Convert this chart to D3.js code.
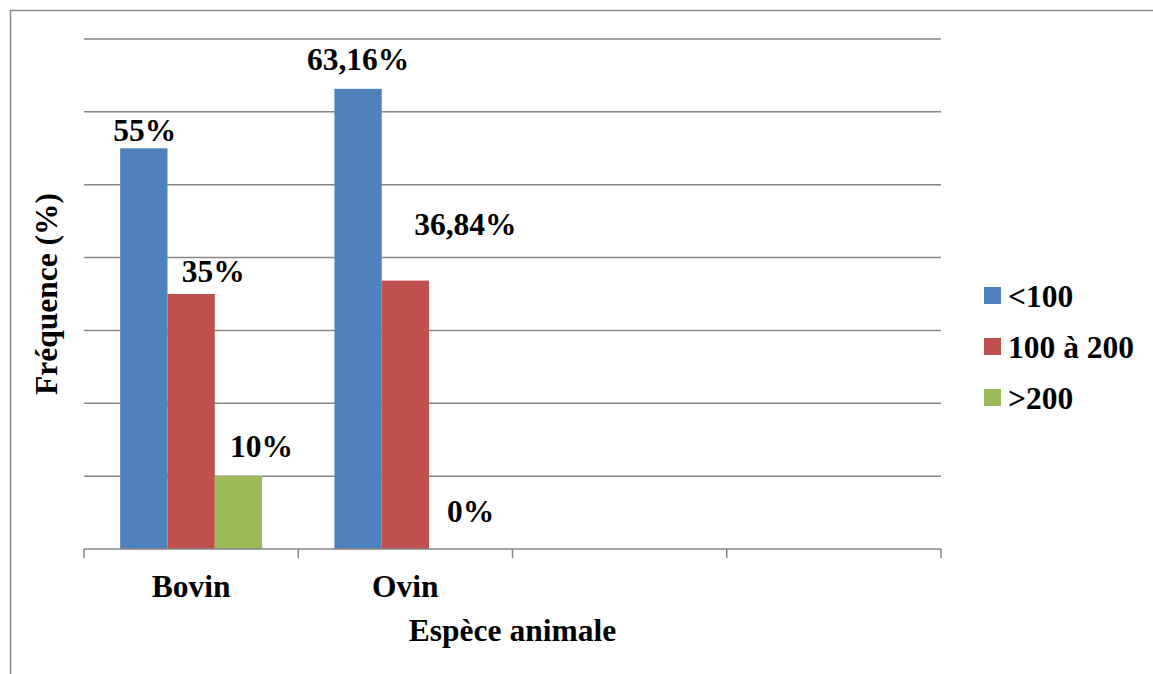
<!DOCTYPE html>
<html>
<head>
<meta charset="utf-8">
<script src="https://cdn.jsdelivr.net/npm/d3@7"></script>
<style>
  html, body { margin: 0; padding: 0; background: #fff; }
  svg { display: block; }
  text { font-family: "Liberation Serif", "Times New Roman", serif; font-weight: bold; fill: #000; }
</style>
</head>
<body>
<svg id="chart" width="1153" height="674"></svg>
<script>
// Categories on the x axis (four slots, only two are filled)
const categories = ["Bovin", "Ovin", "", ""];
// Series (size classes)
const series = ["<100", "100 à 200", ">200"];
const seriesColors = ["#4F81BD", "#C0504D", "#9BBB59"];
// Values per series, indexed like categories
const valuesLt100 = [55, 63.16];
const values100to200 = [35, 36.84];
const valuesGt200 = [10, 0];
const valueLabels = [["55%", "63,16%"], ["35%", "36,84%"], ["10%", "0%"]];
// Label nudges [dx, dy] relative to the bar's top centre
const labelNudges = [
  [[1, -7], [0, -19]],
  [[22, -12], [60, -46]],
  [[23, -19], [18, -27]]
];
const yTicks = [0, 10, 20, 30, 40, 50, 60, 70];

const allValues = [valuesLt100, values100to200, valuesGt200];
const fontSize = 31.5;

const svg = d3.select("#chart");
const plot = { left: 84, right: 941, top: 39, bottom: 549 };

// Outer frame (left and top edges)
svg.append("path")
  .attr("d", "M10.5,674 L10.5,10.5 L1153,10.5")
  .attr("fill", "none").attr("stroke", "#8a8a8a").attr("stroke-width", 1.5);

const x = d3.scaleBand().domain(d3.range(categories.length))
  .range([plot.left, plot.right]).padding(0);
const xSub = d3.scaleBand().domain(series)
  .range([0, x.bandwidth()]).paddingInner(0).paddingOuter(0.765);
const y = d3.scaleLinear().domain([0, 70]).range([plot.bottom, plot.top]);

// Horizontal gridlines
svg.append("g").selectAll("line")
  .data(yTicks.filter(t => t > 0))
  .join("line")
  .attr("x1", plot.left).attr("x2", plot.right)
  .attr("y1", d => y(d)).attr("y2", d => y(d))
  .attr("stroke", "#868686").attr("stroke-width", 1.5);

// Bars
const bars = svg.append("g");
series.forEach((s, si) => {
  bars.selectAll(null)
    .data(allValues[si].map((v, ci) => ({ v, ci })))
    .join("rect")
    .attr("x", d => x(d.ci) + xSub(s))
    .attr("y", d => y(d.v))
    .attr("width", xSub.bandwidth())
    .attr("height", d => y(0) - y(d.v))
    .attr("fill", seriesColors[si]);
});

// X axis line and boundary ticks
const axis = svg.append("g");
axis.append("line")
  .attr("x1", plot.left).attr("x2", plot.right)
  .attr("y1", y(0)).attr("y2", y(0))
  .attr("stroke", "#868686").attr("stroke-width", 1.5);
const bounds = d3.range(categories.length).map(i => x(i)).concat([plot.right]);
axis.selectAll(".tick")
  .data(bounds)
  .join("line")
  .attr("x1", d => d).attr("x2", d => d)
  .attr("y1", y(0)).attr("y2", y(0) + 9)
  .attr("stroke", "#868686").attr("stroke-width", 1.5);
axis.selectAll("text")
  .data(categories.map((c, i) => ({ c, i })).filter(d => d.c))
  .join("text")
  .attr("x", d => x(d.i) + x.bandwidth() / 2)
  .attr("y", 597)
  .attr("text-anchor", "middle")
  .attr("font-size", fontSize)
  .text(d => d.c);

// Value labels
const labels = svg.append("g");
series.forEach((s, si) => {
  labels.selectAll(null)
    .data(allValues[si].map((v, ci) => ({ v, ci })))
    .join("text")
    .attr("x", d => x(d.ci) + xSub(s) + xSub.bandwidth() / 2 + labelNudges[si][d.ci][0])
    .attr("y", d => y(d.v) + labelNudges[si][d.ci][1])
    .attr("text-anchor", "middle")
    .attr("font-size", fontSize)
    .text(d => valueLabels[si][d.ci]);
});

// Axis titles
svg.append("text")
  .attr("x", (plot.left + plot.right) / 2).attr("y", 641)
  .attr("text-anchor", "middle").attr("font-size", fontSize)
  .text("Espèce animale");
svg.append("text")
  .attr("transform", "translate(57,294) rotate(-90)")
  .attr("text-anchor", "middle").attr("font-size", fontSize)
  .text("Fréquence (%)");

// Legend
const legend = svg.append("g").attr("transform", "translate(984,287)");
const rows = legend.selectAll("g").data(series).join("g")
  .attr("transform", (d, i) => `translate(0,${i * 51})`);
rows.append("rect").attr("width", 17).attr("height", 17)
  .attr("fill", (d, i) => seriesColors[i]);
rows.append("text").attr("x", 24).attr("y", 20)
  .attr("font-size", fontSize).text(d => d);
</script>
</body>
</html>
